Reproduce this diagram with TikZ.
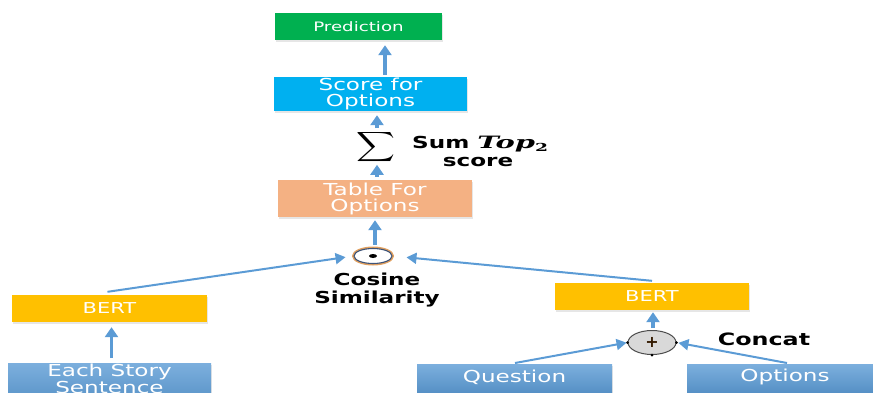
\documentclass[tikz,border=0pt]{standalone}
\usepackage{amsmath}
\usepackage{fontspec}
\usepackage{graphicx}
\setmainfont{DejaVu Sans}
\newfontfamily\bx[FakeStretch=1.4]{DejaVu Sans}
\newfontfamily\topfont[FakeStretch=1.7]{DejaVu Serif}
\usetikzlibrary{arrows.meta,shadows,shapes.geometric}
\definecolor{arr}{HTML}{5B9BD5}
\definecolor{grn}{HTML}{00B050}
\definecolor{cyn}{HTML}{00B0F0}
\definecolor{sal}{HTML}{F4B183}
\definecolor{gold}{HTML}{FFC000}
\definecolor{blu}{HTML}{5B9BD5}
\definecolor{ringc}{HTML}{3E5478}
\definecolor{ringo}{HTML}{E0A060}
\tikzset{
  box/.style={rectangle, inner sep=0pt, text=white, align=center,
    font=\bx\fontsize{16.5}{16}\selectfont,
    drop shadow={opacity=0.2, shadow xshift=1pt, shadow yshift=-1.5pt}},
  inbox/.style={box, top color=blu!80!white, bottom color=blu!92!black},
  boxtext/.style={text=white, align=center, inner sep=0pt, font=\bx\fontsize{16.5}{17}\selectfont},
  thick arrow/.style={draw=arr, line width=3.4pt, -{Triangle[length=10pt,width=13pt]}},
  thin arrow/.style={draw=arr, line width=2pt, -{Triangle[length=10pt,width=11pt]}},
  lbl/.style={font=\bx\bfseries\fontsize{16.5}{18}\selectfont, align=center, inner sep=0pt}
}
\begin{document}
\begin{tikzpicture}[x=1pt,y=-1pt]
\useasboundingbox (0,0) rectangle (873,392);
\clip (0,0) rectangle (873,392);
% boxes
\node[box, fill=grn, minimum width=167pt, minimum height=27pt, font=\bx\fontsize{13}{14}\selectfont] (pred) at (358.5,26.5) {Prediction};
\node[box, fill=cyn, minimum width=193pt, minimum height=34pt] (score) at (370.5,94) {Score for\\Options};
\node[box, fill=sal, minimum width=194pt, minimum height=37pt] (table) at (375,198.5) {Table For\\Options};
\node[box, fill=gold, minimum width=195pt, minimum height=27pt, font=\bx\fontsize{15}{16}\selectfont] (bertL) at (109.5,308.5) {BERT};
\node[box, fill=gold, minimum width=194pt, minimum height=27pt, font=\bx\fontsize{15}{16}\selectfont] (bertR) at (652,296.5) {BERT};
\node[inbox, minimum width=203pt, minimum height=44pt, anchor=north] (story) at (109.5,363) {};
\node[boxtext] (storytxt) at (109.5,379) {Each Story\\Sentence};
\node[inbox, minimum width=195pt, minimum height=30pt, anchor=north] (quest) at (514.5,364) {};
\node[boxtext] (questtxt) at (514.5,377) {Question};
\node[inbox, minimum width=186pt, minimum height=30pt, anchor=north] (opts) at (780,364) {};
\node[boxtext] (optstxt) at (785,377) {Options};
% operators
\node[inner sep=0pt, minimum height=22pt, font=\fontsize{20}{20}\selectfont] (sum) at (376,147) {\scalebox{1.3}[1]{$\displaystyle\sum$}};
\node[ellipse, draw=ringo, line width=2pt, minimum width=40pt, minimum height=17pt, inner sep=0pt] (dotring) at (373,256) {};
\node[ellipse, draw=ringc, line width=1.1pt, minimum width=38pt, minimum height=15pt, inner sep=0pt, fill=white] (dot) at (373,256) {};
\fill[black] (dot.center) ellipse (4pt and 2pt);
\node[ellipse, draw=gray!60!black, fill=gray!30, line width=1pt, minimum width=48pt, minimum height=24pt, inner sep=0pt] (plus) at (652,342.5) {};
\fill[black] (plus.west) circle (1.5pt) (plus.east) circle (1.5pt) (plus.south) circle (1.5pt);
\node[font=\bfseries\fontsize{16}{16}\selectfont, text=black!80!orange, inner sep=0pt] (plussign) at (652,342.5) {+};
% labels
\node[lbl, anchor=west] (sumlbl) at (412,144) {Sum {\topfont\bfseries\itshape\fontsize{17}{17}\selectfont Top}\raisebox{-3pt}{\topfont\bfseries\fontsize{11}{11}\selectfont 2}};
\node[lbl] (scorelbl) at (478,162) {score};
\node[lbl] (coslbl) at (377,290) {Cosine\\Similarity};
\node[lbl, font=\bx\bfseries\fontsize{17}{18}\selectfont] (concat) at (764,339) {Concat};
% vertical arrows
\draw[thick arrow, shorten >=5pt] ([xshift=14.5pt,yshift=2pt]score.north) -- ([xshift=14.5pt]score.north |- pred.south);
\draw[thick arrow, shorten >=4pt] ([xshift=1pt,yshift=2pt]sum.north) -- ([xshift=1pt]sum.north |- score.south);
\draw[thick arrow, shorten >=1pt] ([xshift=2pt,yshift=3pt]table.north) -- ([xshift=1pt]sum.south);
\draw[thick arrow, shorten >=3pt] ([xshift=2pt,yshift=3pt]dot.north) -- ([xshift=2pt]dot.north |- table.south);
\draw[thick arrow, shorten >=5pt] ([xshift=2pt,yshift=5pt]story.north) -- ([xshift=2pt]story.north |- bertL.south);
\draw[thick arrow, shorten >=2pt] ([xshift=1pt,yshift=2pt]plus.north) -- ([xshift=1pt]plus.north |- bertR.south);
% diagonal arrows
\draw[thin arrow, shorten >=8pt] ([xshift=-2pt,yshift=3pt]bertL.north) -- (dot.west);
\draw[thin arrow, shorten >=14pt] ([yshift=2pt]bertR.north) -- (dot.east);
\draw[thin arrow, shorten >=1pt] ([xshift=0.5pt,yshift=1pt]quest.north) -- (plus.west);
\draw[thin arrow, shorten >=2pt] ([xshift=7pt,yshift=1pt]opts.north) -- (plus.east);
\end{tikzpicture}
\end{document}
